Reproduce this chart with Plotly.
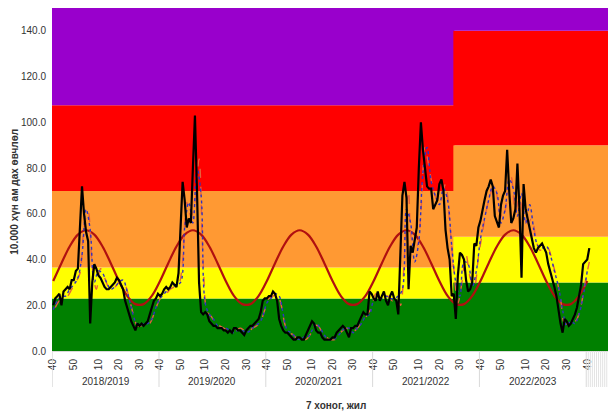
import plotly.graph_objects as go

# ---------------- data ----------------
seasons = ["2018/2019", "2019/2020", "2020/2021", "2021/2022", "2022/2023"]
first_week = 40
weeks_per_season = 52

# weekly incidence per 10 000 population (black line)
inc_2018_19 = [20, 23, 24, 25, 20, 26, 27, 28, 27, 31, 31, 35, 36, 55, 72, 60, 52, 48, 12, 30,
               38, 36, 33, 32, 30, 28, 27, 27, 28, 29, 30, 32, 31, 29, 27, 22, 19, 15, 13, 11,
               9, 12, 11, 12, 11, 12, 13, 16, 19, 22, 23, 25]
inc_2019_20 = [24, 25, 27, 28, 27, 28, 30, 29, 28, 34, 55, 74, 66, 54, 58, 56, 80, 103, 70, 30,
               17, 16, 17, 16, 13, 12, 11, 11, 10, 10, 10, 9, 9, 8, 9, 8, 10, 10, 9, 9,
               8, 7, 9, 10, 11, 11, 12, 13, 14, 17, 22, 23]
inc_2020_21 = [23, 24, 24, 26, 25, 22, 14, 11, 9, 8, 8, 7, 6, 5, 5, 6, 6, 5, 5, 7,
               9, 11, 13, 12, 9, 8, 8, 6, 5, 5, 5, 5, 6, 6, 8, 9, 10, 11, 10, 8,
               6, 10, 10, 11, 11, 13, 15, 17, 16, 16, 26, 25]
inc_2021_22 = [23, 22, 26, 22, 24, 26, 22, 20, 24, 26, 23, 22, 16, 43, 68, 74, 67, 27, 46, 43,
               48, 54, 80, 100, 88, 80, 72, 71, 71, 62, 64, 66, 73, 75, 70, 53, 45, 40, 24, 25,
               14, 33, 43, 42, 40, 31, 26, 27, 30, 47, 46, 54]
inc_2022_23 = [57, 62, 66, 70, 72, 75, 72, 59, 56, 54, 64, 68, 70, 88, 70, 56, 58, 62, 82, 62,
               32, 73, 62, 58, 53, 49, 45, 43, 45, 46, 47, 45, 43, 38, 35, 32, 28, 24, 17, 12,
               8, 14, 13, 11, 12, 14, 16, 19, 24, 29, 38, 39, 40, 45]

# blue dotted series (every second week)
blue_vals = [18, 22, 24, 24, 27, 29, 32, 42, 62, 53, 30, 35, 34, 30, 27, 28, 30, 31, 26, 19,
             13, 11, 12, 12, 14, 19, 23, 25, 27, 28, 29, 30, 54, 65, 56, 80, 68, 21, 16, 14,
             11, 10, 10, 9, 8, 9, 9, 8, 9, 11, 12, 15, 21, 23, 25, 24, 16, 9, 8, 6,
             5, 6, 6, 9, 12, 10, 7, 5, 5, 6, 8, 10, 10, 8, 10, 12, 15, 16, 22, 23,
             23, 24, 23, 23, 24, 27, 62, 56, 39, 48, 78, 89, 74, 68, 64, 71, 66, 46, 30, 24,
             39, 38, 28, 35, 49, 58, 66, 72, 69, 56, 62, 75, 71, 59, 69, 56, 64, 53, 46, 45,
             46, 42, 35, 28, 18, 11, 13, 12, 16, 24, 35]
# red dashed series (every second week, offset by one)
red_vals = [19, 22, 23, 24, 27, 30, 34, 54, 61, 37, 27, 36, 32, 28, 27, 29, 31, 29, 23, 16,
            11, 11, 11, 12, 16, 21, 24, 25, 27, 28, 29, 39, 65, 59, 65, 84, 39, 17, 15, 12,
            11, 10, 9, 9, 9, 10, 9, 8, 10, 11, 13, 18, 23, 24, 25, 20, 11, 8, 7, 5,
            6, 5, 7, 11, 11, 8, 6, 5, 5, 7, 9, 10, 8, 9, 11, 13, 16, 19, 25, 24,
            24, 24, 22, 24, 20, 42, 70, 47, 46, 61, 89, 80, 71, 66, 68, 73, 56, 36, 21, 30,
            42, 32, 28, 41, 52, 62, 69, 73, 62, 58, 67, 76, 61, 67, 59, 56, 58, 49, 44, 46,
            45, 39, 32, 23, 12, 12, 12, 14, 20, 30, 39]

# seasonal baseline curve (sampled every 4 weeks)
baseline_vals = [30.6, 38.4, 45.7, 50.9, 52.8, 50.9, 45.7, 38.4, 30.6, 24.1, 20.5, 20.5, 24.1,
                 30.6, 38.4, 45.7, 50.9, 52.8, 50.9, 45.7, 38.4, 30.6, 24.1, 20.5, 20.5, 24.1,
                 30.6, 38.4, 45.7, 50.9, 52.8, 50.9, 45.7, 38.4, 30.6, 24.1, 20.5, 20.5, 24.1,
                 30.6, 38.4, 45.7, 50.9, 52.8, 50.9, 45.7, 38.4, 30.6, 24.1, 20.5, 20.5, 24.1,
                 30.6, 38.4, 45.7, 50.9, 52.8, 50.9, 45.7, 38.4, 30.6, 24.1, 20.5, 20.5, 24.1,
                 30.6]

# alert thresholds (before / after the change in 2021/2022)
band_edges_old = [0, 23, 36.5, 70, 107.5, 150]
band_edges_new = [0, 30, 50, 90, 140, 150]
band_colors = ["#008000", "#FFFF00", "#FF9933", "#FF0000", "#9900CC"]
threshold_change_week = 194.8

week_tick_labels = ["40", "50", "10", "20", "30"]

# ---------------- figure ----------------
incidence = inc_2018_19 + inc_2019_20 + inc_2020_21 + inc_2021_22 + inc_2022_23
x_inc = list(range(len(incidence)))
x_blue = list(range(0, 2 * len(blue_vals), 2))
x_red = list(range(1, 2 * len(red_vals), 2))
x_base = list(range(0, 4 * len(baseline_vals), 4))

n_total = len(seasons) * weeks_per_season
x_min, x_max = -0.6, 270.1

tickvals, ticktext = [], []
for i in range(n_total + 1):
    wk = (first_week - 1 + i) % weeks_per_season + 1
    if str(wk) in week_tick_labels:
        tickvals.append(i)
        ticktext.append(str(wk))

fig = go.Figure()

shapes = []
for k, col in enumerate(band_colors):
    shapes.append(dict(type="rect", xref="x", yref="y", x0=x_min, x1=threshold_change_week + 0.5,
                       y0=band_edges_old[k], y1=band_edges_old[k + 1],
                       fillcolor=col, line=dict(width=0), layer="below"))
for k, col in enumerate(band_colors):
    shapes.append(dict(type="rect", xref="x", yref="y", x0=threshold_change_week, x1=x_max,
                       y0=band_edges_new[k], y1=band_edges_new[k + 1],
                       fillcolor=col, line=dict(width=0), layer="below"))

# category separators below the axis
for s in range(len(seasons) + 1):
    xs = s * weeks_per_season - 0.5
    shapes.append(dict(type="line", xref="x", yref="paper", x0=xs, x1=xs, y0=0, y1=-0.105,
                       line=dict(color="#D9D9D9", width=1)))
for j in range(n_total, int(x_max)):
    xs = j + 0.5
    shapes.append(dict(type="line", xref="x", yref="paper", x0=xs, x1=xs, y0=0, y1=-0.105,
                       line=dict(color="#E3E3E3", width=1)))

fig.add_trace(go.Scatter(x=x_base, y=baseline_vals, mode="lines",
                         line=dict(color="#B01010", width=2.2, shape="spline"),
                         hoverinfo="skip", showlegend=False))
fig.add_trace(go.Scatter(x=x_red, y=red_vals, mode="lines",
                         line=dict(color="#E8603C", width=1.4, dash="dash", shape="spline"),
                         showlegend=False))
fig.add_trace(go.Scatter(x=x_blue, y=blue_vals, mode="lines",
                         line=dict(color="#3030C0", width=1.4, dash="dot", shape="spline"),
                         showlegend=False))
fig.add_trace(go.Scatter(x=x_inc, y=incidence, mode="lines",
                         line=dict(color="#000000", width=2.2),
                         showlegend=False))

annotations = []
for s, name in enumerate(seasons):
    annotations.append(dict(x=s * weeks_per_season + weeks_per_season / 2 - 0.5, y=-0.088,
                            xref="x", yref="paper", text=name, showarrow=False,
                            font=dict(family="Liberation Sans, Arial", size=10, color="#333333"),
                            yanchor="middle"))
annotations.append(dict(x=0.51, y=-0.158, xref="paper", yref="paper",
                        text="<b>7 хоног, жил</b>", showarrow=False,
                        font=dict(family="Liberation Sans, Arial", size=10, color="#333333"),
                        yanchor="middle"))
annotations.append(dict(x=-0.068, y=0.465, xref="paper", yref="paper",
                        text="<b>10.000 хүн ам дах өвчлөл</b>", showarrow=False, textangle=-90,
                        font=dict(family="Liberation Sans, Arial", size=10, color="#333333"),
                        xanchor="center", yanchor="middle"))

fig.update_layout(
    width=608, height=415,
    margin=dict(l=52, r=0, t=8, b=64),
    paper_bgcolor="white", plot_bgcolor="white",
    shapes=shapes, annotations=annotations,
    xaxis=dict(range=[x_min, x_max], tickmode="array", tickvals=tickvals, ticktext=ticktext,
               tickangle=-90, showgrid=False, zeroline=False, showline=True,
               linecolor="#D9D9D9", ticks="", ticklabelstandoff=3, automargin=False,
               tickfont=dict(family="Liberation Sans, Arial", size=10, color="#333333")),
    yaxis=dict(range=[0, 150], tickmode="array", tickvals=list(range(0, 141, 20)),
               tickformat=".1f", showgrid=False, zeroline=False, showline=False, ticks="",
               ticklabelstandoff=5, automargin=False,
               tickfont=dict(family="Liberation Sans, Arial", size=10, color="#333333")),
    font=dict(family="Liberation Sans, Arial"),
)

fig.write_html("out.html", config={"displayModeBar": False},
               post_script="document.body.style.margin='0';document.body.style.overflow='hidden';")
